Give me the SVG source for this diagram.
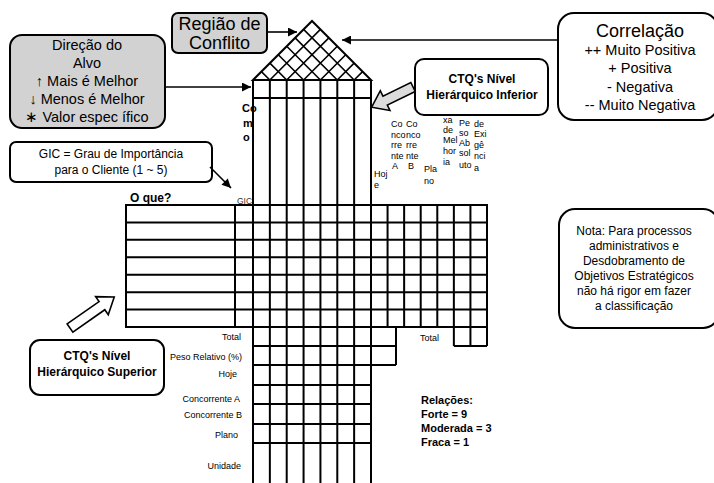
<svg xmlns="http://www.w3.org/2000/svg" width="714" height="483" viewBox="0 0 714 483">
<defs>
<marker id="ah" viewBox="0 0 10 10" refX="10" refY="5" markerWidth="11" markerHeight="9" markerUnits="userSpaceOnUse" orient="auto">
<path d="M0,0 L10,5 L0,10 Z" fill="#000"/>
</marker>
</defs>
<style>
text{font-family:"Liberation Sans",Arial,sans-serif;fill:#000}
.g{fill:none;stroke:#000;stroke-width:2}
.lat{fill:none;stroke:#000;stroke-width:1.6}
.box{fill:#fff;stroke:#000;stroke-width:2}
.gbox{fill:#d2d2d2;stroke:#000;stroke-width:2}
.conn{fill:none;stroke:#000;stroke-width:1.6}
.sm{font-size:9px}
.cl{font-size:9px;text-anchor:end}
.b12{font-size:12px;font-weight:bold;text-anchor:middle}
.m{text-anchor:middle}
</style>
<rect width="714" height="483" fill="#fff"/>

<g id="roof">
<polygon class="g" points="253,80 312,21 371,80"/>
<path class="lat" d="M269.86,80 L320.43,29.43 M286.71,80 L328.86,37.86 M303.57,80 L337.29,46.29 M320.43,80 L345.71,54.71 M337.29,80 L354.14,63.14 M354.14,80 L362.57,71.57 M269.86,80 L261.43,71.57 M286.71,80 L269.86,63.14 M303.57,80 L278.29,54.71 M320.43,80 L286.71,46.29 M337.29,80 L295.14,37.86 M354.14,80 L303.57,29.43"/>
</g>

<g id="columns">
<line class="g" x1="253" y1="98" x2="371" y2="98"/>
<line class="g" x1="253" y1="80" x2="371" y2="80"/>
<path class="g" d="M253,80 V483 M269.86,80 V483 M286.71,80 V483 M303.57,80 V483 M320.43,80 V483 M337.29,80 V483 M354.14,80 V483 M371,80 V483"/>
</g>

<g id="matrix">
<rect class="g" x="126" y="205" width="361" height="122"/>
<path class="g" d="M126,222.43 H487 M126,239.86 H487 M126,257.29 H487 M126,274.71 H487 M126,292.14 H487 M126,309.57 H487"/>
<path class="g" d="M235,205 V327 M387.57,205 V327 M404.14,205 V327 M420.71,205 V327 M437.29,205 V327 M453.86,205 V346 M470.43,205 V346 M487,327 V346"/>
<path class="g" d="M453.86,346 H487"/>
</g>

<g id="bottom-rows">
<path class="g" d="M253,346 H396 M253,365 H396 M396,327 V365 M253,385 H371 M253,404 H371 M253,424 H371 M253,443 H371"/>
</g>

<g id="labels">
<text x="130" y="202" style="font-size:12px;font-weight:bold">O que?</text>
<text x="237" y="204" style="font-size:8.5px;fill:#333">GIC</text>
<text x="242" y="112" style="font-size:11px;font-weight:bold">Co</text>
<text x="243" y="127" style="font-size:11px;font-weight:bold">m</text>
<text x="243" y="141" style="font-size:11px;font-weight:bold">o</text>
<text class="sm" x="374" y="177">Hoj</text><text class="sm" x="374" y="188">e</text>
<text class="sm" x="391" y="127">Co</text><text class="sm" x="391" y="137.5">nco</text><text class="sm" x="391" y="148">rre</text><text class="sm" x="391" y="158.5">nte</text><text class="sm" x="392" y="169">A</text>
<text class="sm" x="406" y="127">Co</text><text class="sm" x="406" y="137.5">nco</text><text class="sm" x="406" y="148">rre</text><text class="sm" x="406" y="158.5">nte</text><text class="sm" x="408" y="169">B</text>
<text class="sm" x="424" y="172">Pla</text><text class="sm" x="424" y="183.5">no</text>
<text class="sm" x="443" y="122.5">xa</text><text class="sm" x="443" y="132.5">de</text><text class="sm" x="443" y="143">Mel</text><text class="sm" x="443" y="154">hor</text><text class="sm" x="443" y="165">ia</text>
<text class="sm" x="459" y="125.5">Pe</text><text class="sm" x="459" y="135.5">so</text><text class="sm" x="459" y="145.5">Ab</text><text class="sm" x="459" y="156">sol</text><text class="sm" x="459" y="167.5">uto</text>
<text class="sm" x="474" y="126.5">de</text><text class="sm" x="474" y="137">Exi</text><text class="sm" x="474" y="147.5">gê</text><text class="sm" x="474" y="159">nci</text><text class="sm" x="474" y="170.5">a</text>
<text class="cl" x="241" y="340">Total</text>
<text class="cl" x="242" y="360">Peso Relativo (%)</text>
<text class="cl" x="237" y="377">Hoje</text>
<text class="cl" x="240" y="402">Concorrente A</text>
<text class="cl" x="242" y="418">Concorrente B</text>
<text class="cl" x="238" y="438">Plano</text>
<text class="cl" x="241" y="469">Unidade</text>
<text class="sm" x="420" y="341">Total</text>
</g>

<g id="relacoes" style="font-size:11px;font-weight:bold">
<text x="421" y="404">Relações:</text>
<text x="421" y="418">Forte = 9</text>
<text x="421" y="432">Moderada = 3</text>
<text x="421" y="446">Fraca = 1</text>
</g>

<g id="regiao-conflito">
<rect class="gbox" x="172" y="13" width="95" height="40" rx="6"/>
<text class="m" x="219.5" y="30" style="font-size:18px">Região de</text>
<text class="m" x="219.5" y="49" style="font-size:18px">Conflito</text>
</g>

<g id="direcao-alvo">
<rect class="gbox" x="10" y="35" width="155" height="93" rx="12"/>
<g class="m" style="font-size:14.5px">
<text x="87" y="50">Direção do</text>
<text x="87" y="68">Alvo</text>
<text x="87" y="86">↑ Mais é Melhor</text>
<text x="87" y="104">↓ Menos é Melhor</text>
<text x="87" y="122">∗ Valor espec ífico</text>
</g>
</g>

<g id="gic">
<rect class="box" x="10" y="142" width="202" height="40" rx="6"/>
<text class="m" x="111" y="158" style="font-size:12px">GIC = Grau de Importância</text>
<text class="m" x="111" y="174" style="font-size:12px">para o Cliente (1 ~ 5)</text>
</g>

<g id="correlacao">
<rect class="box" x="558" y="13" width="160" height="107" rx="16"/>
<text class="m" x="640" y="37" style="font-size:18px">Correlação</text>
<g class="m" style="font-size:14.5px">
<text x="640" y="55">++ Muito Positiva</text>
<text x="640" y="73">+ Positiva</text>
<text x="640" y="92">- Negativa</text>
<text x="640" y="110">-- Muito Negativa</text>
</g>
</g>

<g id="ctq-inferior">
<rect class="box" x="415" y="59" width="133" height="56" rx="9"/>
<text class="b12" x="482" y="83">CTQ's Nível</text>
<text class="b12" x="482" y="99">Hierárquico Inferior</text>
</g>

<g id="nota">
<rect class="box" x="559" y="209" width="160" height="119" rx="16"/>
<g class="m" style="font-size:12px">
<text x="634" y="235">Nota: Para processos</text>
<text x="634" y="250">administrativos e</text>
<text x="634" y="265">Desdobramento de</text>
<text x="634" y="280">Objetivos Estratégicos</text>
<text x="634" y="295">não há rigor em fazer</text>
<text x="634" y="310">a classificação</text>
</g>
</g>

<g id="ctq-superior">
<rect class="box" x="30" y="340" width="134" height="55" rx="10"/>
<text class="b12" x="97" y="360">CTQ's Nível</text>
<text class="b12" x="97" y="376">Hierárquico Superior</text>
</g>

<g id="connectors">
<line class="conn" x1="267" y1="32" x2="297" y2="32" marker-end="url(#ah)"/>
<line class="conn" x1="558" y1="40" x2="342" y2="40" marker-end="url(#ah)"/>
<line class="conn" x1="165" y1="87" x2="251" y2="87" marker-end="url(#ah)"/>
<line class="conn" x1="210" y1="167" x2="231" y2="188" marker-end="url(#ah)"/>
<path d="M0,-5 L31,-5 L31,-11 L46,0 L31,11 L31,5 L0,5 Z" transform="translate(413,87) rotate(154)" fill="#dcdcdc" stroke="#000" stroke-width="1.6"/>
<path d="M0,-5 L39,-5 L39,-11 L54,0 L39,11 L39,5 L0,5 Z" transform="translate(70,328) rotate(-35)" fill="#fff" stroke="#000" stroke-width="1.6"/>
</g>
</svg>
